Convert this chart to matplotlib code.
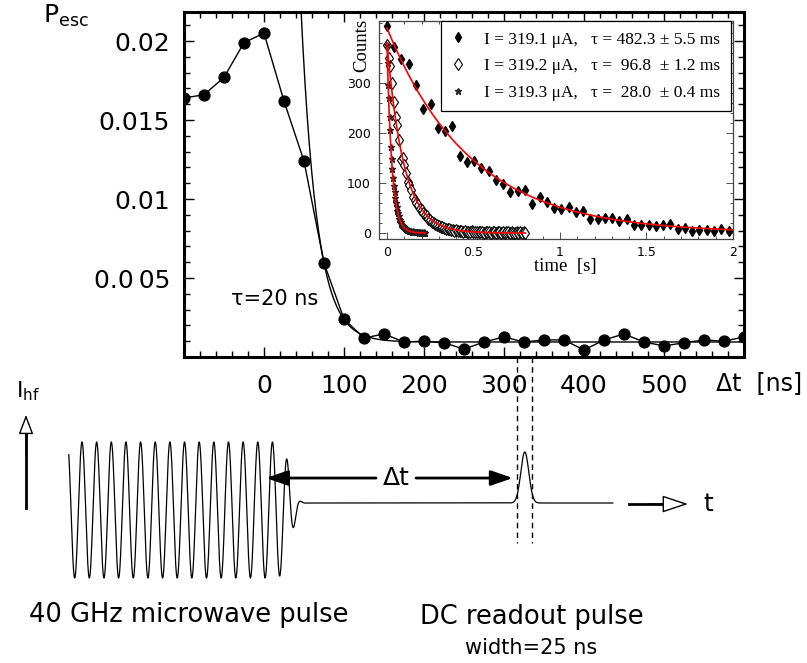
import numpy as np
import matplotlib
matplotlib.use("Agg")
import matplotlib.pyplot as plt
from matplotlib.lines import Line2D
from matplotlib.ticker import MultipleLocator, FixedLocator

plt.rcParams['font.family'] = ['DejaVu Sans']
plt.rcParams['mathtext.fontset'] = 'dejavusans'

# ---- escape probability vs. delay between microwave and readout pulse ----
delay_ns = np.arange(-100, 601, 25)
p_esc = [0.0164, 0.0166, 0.0177, 0.0199, 0.0205, 0.0162, 0.0124,
         0.00595, 0.0024, 0.0012, 0.00146,
         0.00095, 0.0010, 0.0009, 0.0005, 0.00095, 0.00127, 0.00095,
         0.00108, 0.00108, 0.00044, 0.00108, 0.00146, 0.00095, 0.0007,
         0.0009, 0.00108, 0.0010, 0.00127]

# exponential relaxation fit
fit_tau_ns = 20.0
fit_floor = 0.00095
fit_amp = 0.005
fit_t_ref = 75.0

ytick_vals = [0.005, 0.01, 0.015, 0.02]
ytick_labels = ['0.0\u200905', '0.01', '0.015', '0.02']
xtick_vals = [0, 100, 200, 300, 400, 500]
xtick_labels = ['0', '100', '200', '300', '400', '500']

# ---- inset: counts vs. waiting time for three bias currents ----
currents_uA = [319.1, 319.2, 319.3]
taus_ms = [482.3, 96.8, 28.0]
tau_errs_ms = [5.5, 1.2, 0.4]
fit_amplitudes = [410, 380, 380]

dt1 = 0.042
counts1 = [414, 372, 348, 338, 296, 248, 258, 210, 204, 214,
           155, 142, 144, 130, 124, 106, 98, 82, 84, 86,
           58, 72, 62, 50, 48, 52, 42, 44, 28, 28,
           30, 30, 24, 28, 16, 16, 16, 14, 16, 18,
           8, 10, 4, 6, 6, 4, 8, 4]
dt2 = 0.01
counts2 = [376, 350, 334, 300, 262, 232, 216, 186, 146, 150,
           136, 120, 102, 96, 86, 72, 66, 60, 56, 48,
           46, 40, 36, 34, 28, 26, 22, 20, 18, 16,
           14, 12, 12, 10, 9, 8, 8, 6, 7, 5,
           6, 4, 5, 4, 3, 4, 3, 3, 2, 4,
           2, 3, 2, 2, 3, 2, 1, 2, 2, 3,
           1, 2, 2, 1, 2, 3, 1, 2, 1, 2,
           2, 1, 2, 1, 1, 2, 1, 2, 1, 2, 1]
dt3 = 0.004
counts3 = [376, 340, 296, 270, 232, 206, 172, 148, 128, 110,
           94, 82, 70, 60, 52, 44, 40, 34, 28, 26,
           22, 18, 16, 14, 12, 12, 10, 8, 8, 7,
           6, 6, 5, 4, 5, 4, 3, 4, 3, 3,
           2, 3, 2, 2, 3, 2, 1, 2, 2, 1,
           2, 1, 1, 2, 1, 1]

W, H = 807, 663
fig = plt.figure(figsize=(W / 100, H / 100), dpi=100)

# ================= main panel =================
ax = fig.add_axes([184 / W, 1 - 357 / H, 560 / W, 345 / H])
ax.set_xlim(-100, 600)
ax.set_ylim(0, 0.02184)

ax.plot(delay_ns, p_esc, '-', color='black', lw=1.0, zorder=3)
ax.plot(delay_ns, p_esc, 'o', color='black', ms=7.8, zorder=4)
t_fit = np.linspace(40, 600, 600)
ax.plot(t_fit, fit_floor + fit_amp * np.exp(-(t_fit - fit_t_ref) / fit_tau_ns),
        color='black', lw=1.0, zorder=2)

ax.set_yticks(ytick_vals)
ax.set_yticklabels(ytick_labels, fontsize=18, family=['DejaVu Sans'])
ax.yaxis.set_minor_locator(MultipleLocator(0.001))
ax.set_xticks(xtick_vals)
ax.set_xticklabels(xtick_labels, fontsize=18)
ax.xaxis.set_minor_locator(MultipleLocator(20))
ax.tick_params(which='both', direction='in', top=True, right=True, width=1.0)
ax.tick_params(which='major', length=7)
ax.tick_params(which='minor', length=4)
ax.tick_params(axis='y', pad=10)
ax.tick_params(axis='x', pad=12)
for s in ax.spines.values():
    s.set_linewidth(2.2)

ax.text(-41, 0.00367, 'τ=20 ns', fontsize=15, va='center', ha='left')
fig.text(43 / W, 1 - 16 / H, r'P$_{\mathrm{esc}}$', fontsize=18, va='center', ha='left')

# ================= inset =================
ai = fig.add_axes([379 / W, 1 - 239 / H, 354 / W, 218 / H])
ai.set_xlim(-0.046, 2.0)
ai.set_ylim(-12, 424)

t1 = np.arange(len(counts1)) * dt1
t2 = np.arange(len(counts2)) * dt2
t3 = np.arange(len(counts3)) * dt3

ai.plot(t1, counts1, linestyle='none', marker='d', ms=5.5, color='black', zorder=3)
ai.plot(t2, counts2, linestyle='none', marker='d', ms=6.3, mfc='white', mec='black',
        mew=0.8, zorder=3)
ai.plot(t3, counts3, linestyle='none', marker='*', ms=5, color='#222222', zorder=3)

for tmax, amp, tau in zip([2.0, t2[-1], t3[-1]], fit_amplitudes, taus_ms):
    tt = np.linspace(0, tmax, 400)
    ai.plot(tt, amp * np.exp(-tt / (tau / 1000.0)), color='#ff0000', lw=1.2, zorder=4)

ai.xaxis.set_major_locator(FixedLocator([0, 0.5, 1, 1.5, 2]))
ai.set_xticklabels(['0', '0.5', '1', '1.5', '2'], fontsize=9)
ai.xaxis.set_minor_locator(MultipleLocator(0.1))
ai.yaxis.set_major_locator(FixedLocator([0, 100, 200, 300]))
ai.set_yticklabels(['0', '100', '200', '300'], fontsize=9)
ai.yaxis.set_minor_locator(FixedLocator(np.arange(0, 421, 20)))
ai.tick_params(which='both', direction='in', top=True, right=True, width=0.6, color='#333333')
ai.tick_params(which='major', length=5)
ai.tick_params(which='minor', length=2.5)
ai.tick_params(axis='y', pad=6)
ai.tick_params(axis='x', pad=5)
for s in ai.spines.values():
    s.set_linewidth(0.9)
    s.set_color('#444444')

handles = [
    Line2D([], [], linestyle='none', marker='d', ms=5.5, color='black'),
    Line2D([], [], linestyle='none', marker='d', ms=6.3, mfc='white', mec='black', mew=0.8),
    Line2D([], [], linestyle='none', marker='*', ms=5, color='#222222'),
]
labels = []
for cur, tau, err in zip(currents_uA, taus_ms, tau_errs_ms):
    tau_txt = f'{tau:.1f}'
    if tau < 100:
        tau_txt = ' ' + tau_txt + ' '
    labels.append(f'I = {cur:.1f} μA,   τ = {tau_txt} ± {err:.1f} ms')
leg = ai.legend(handles, labels, loc='upper right', bbox_to_anchor=(1 - 2 / 354, 1.0),
                borderaxespad=0, prop={'family': 'Liberation Serif', 'size': 12.5},
                frameon=True, fancybox=False, edgecolor='black', framealpha=1,
                handlelength=0.8, handletextpad=1.1, borderpad=0.6, labelspacing=0.6)
leg.get_frame().set_linewidth(0.9)

fig.text(362 / W, 1 - 45 / H, 'Counts', rotation=90, family='Liberation Serif',
         fontsize=13.5, ha='center', va='center')
fig.text(565 / W, 1 - 267 / H, 'time  [s]', family='Liberation Serif',
         fontsize=13.5, ha='center', va='center')

# ================= pulse sequence sketch (time axis in ns) =================
sk = fig.add_axes([184 / W, 0, 560 / W, 1 - 357 / H])
sk.set_xlim(-100, 600)
sk.set_ylim(-2.25, 2.25)
sk.axis('off')

mw_start, mw_period, mw_phase0 = -244.0, 18.31, -227.5
readout_t, readout_sigma, readout_height = 326.0, 5.0, 0.75
trace_end = 436.0
base_level = 0.103

x = np.linspace(mw_start, trace_end, 6000)
envelope = np.exp(-(np.clip(x - 8.0, 0, None) / 28.0) ** 4)
base = base_level / (1 + np.exp(-(x - 38.0) / 3.0))
trace = (base + envelope * np.cos(2 * np.pi * (x - mw_phase0) / mw_period)
         + readout_height * np.exp(-0.5 * ((x - readout_t) / readout_sigma) ** 2))
sk.plot(x, trace, color='black', lw=0.9, clip_on=False)

# readout window markers
for xd in (316.0, 335.0):
    sk.plot([xd, xd], [2.25, -0.485], color='black', lw=1.0, ls=(0, (4, 3)), clip_on=False)

# delay arrows
arrow_y = 0.47
kw_filled = dict(arrowstyle='-|>,head_length=1.1,head_width=0.38', color='black', lw=2.0,
                 mutation_scale=12, shrinkA=0, shrinkB=0)
sk.annotate('', xy=(2.5, arrow_y), xytext=(140, arrow_y), arrowprops=kw_filled,
            annotation_clip=False)
sk.annotate('', xy=(311, arrow_y), xytext=(190, arrow_y), arrowprops=kw_filled,
            annotation_clip=False)
sk.text(165, arrow_y, 'Δt', fontsize=18, ha='center', va='center')

# time arrow (open head)
ty = 0.088
sk.plot([456, 505], [ty, ty], color='black', lw=2.0, clip_on=False)
sk.annotate('', xy=(530, ty), xytext=(480, ty),
            arrowprops=dict(arrowstyle='-|>,head_length=1.35,head_width=0.45', fc='white',
                            ec='black', lw=1.0, mutation_scale=12, shrinkA=0, shrinkB=0),
            annotation_clip=False)
sk.text(549, ty, 't', fontsize=18, ha='left', va='center')

# current axis arrow (open head)
ix = -297.5
sk.plot([ix, ix], [0.03, 1.18], color='black', lw=2.0, clip_on=False)
sk.annotate('', xy=(ix, 1.40), xytext=(ix, 0.8),
            arrowprops=dict(arrowstyle='-|>,head_length=1.0,head_width=0.38', fc='white',
                            ec='black', lw=1.0, mutation_scale=12, shrinkA=0, shrinkB=0),
            annotation_clip=False)
sk.text(-310, 1.74, r'I$_{\mathrm{hf}}$', fontsize=15.5, ha='left', va='center')

sk.text(565, 1.87, 'Δt  [ns]', fontsize=17, ha='left', va='center')
sk.text(-93.5, -1.54, '40 GHz microwave pulse', fontsize=18.5, ha='center', va='center')
sk.text(335, -1.57, 'DC readout pulse', fontsize=18.5, ha='center', va='center')
sk.text(334, -2.03, 'width=25 ns', fontsize=15, ha='center', va='center')

fig.savefig('out.png', dpi=100)
